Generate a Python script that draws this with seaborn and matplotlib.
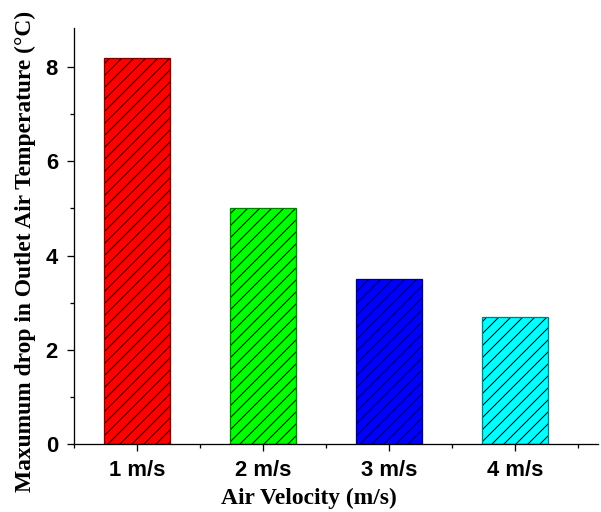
import matplotlib
matplotlib.use("Agg")
import matplotlib.pyplot as plt
import seaborn as sns
import pandas as pd
import numpy as np
from matplotlib.ticker import MultipleLocator, FixedLocator

categories = ["1 m/s", "2 m/s", "3 m/s", "4 m/s"]
values = [8.2, 5.0, 3.5, 2.7]
fill_colors = ["#ff0000", "#00ff00", "#0000ff", "#00ffff"]
edge_colors = ["#800000", "#008000", "#000080", "#008080"]

sns.set_style("ticks")
plt.rcParams["hatch.linewidth"] = 1.0

df = pd.DataFrame({"cat": categories, "val": values})

fig = plt.figure(figsize=(601 / 72, 512 / 72), dpi=72)
ax = fig.add_axes([74 / 601, 1 - 444 / 512, 524 / 601, 416 / 512])

sns.barplot(data=df, x="cat", y="val", hue="cat", palette=fill_colors,
            width=0.52, legend=False, ax=ax, saturation=1)

for p, ec in zip(ax.patches, edge_colors):
    p.set_hatch("//")
    p.set_edgecolor(ec)
    p.set_linewidth(1.3)
    p._hatch_color = (0, 0, 0, 1)

ax.set_xlim(-0.5, 3.66)
ax.set_ylim(0, 8.83)
ax.yaxis.set_major_locator(MultipleLocator(2))
ax.yaxis.set_minor_locator(MultipleLocator(1))
ax.xaxis.set_minor_locator(FixedLocator([-0.5, 0.5, 1.5, 2.5, 3.5]))

for s in ["top", "right"]:
    ax.spines[s].set_visible(False)
for s in ["left", "bottom"]:
    ax.spines[s].set_linewidth(1.3)
    ax.spines[s].set_color("black")

ax.tick_params(axis="both", which="major", length=7, width=1.3, color="black",
               labelsize=22)
ax.tick_params(axis="x", which="major", pad=9)
ax.tick_params(axis="y", which="major", pad=9)
ax.tick_params(axis="both", which="minor", length=4, width=1.3, color="black")

for lab in ax.get_xticklabels() + ax.get_yticklabels():
    lab.set_fontfamily("Liberation Sans")
    lab.set_fontweight("bold")
    lab.set_color("black")

ax.set_xlabel("Air Velocity (m/s)", fontsize=23.5, fontweight="bold",
              fontfamily="Liberation Serif", color="black")
ax.set_ylabel("Maxumum drop in Outlet Air Temperature (°C)", fontsize=23.5,
              fontweight="bold", fontfamily="Liberation Serif",
              color="black")
ax.xaxis.set_label_coords(0.448, -0.105)
ax.yaxis.set_label_coords(-0.072, 0.462)

fig.savefig("out.png", dpi=72)
